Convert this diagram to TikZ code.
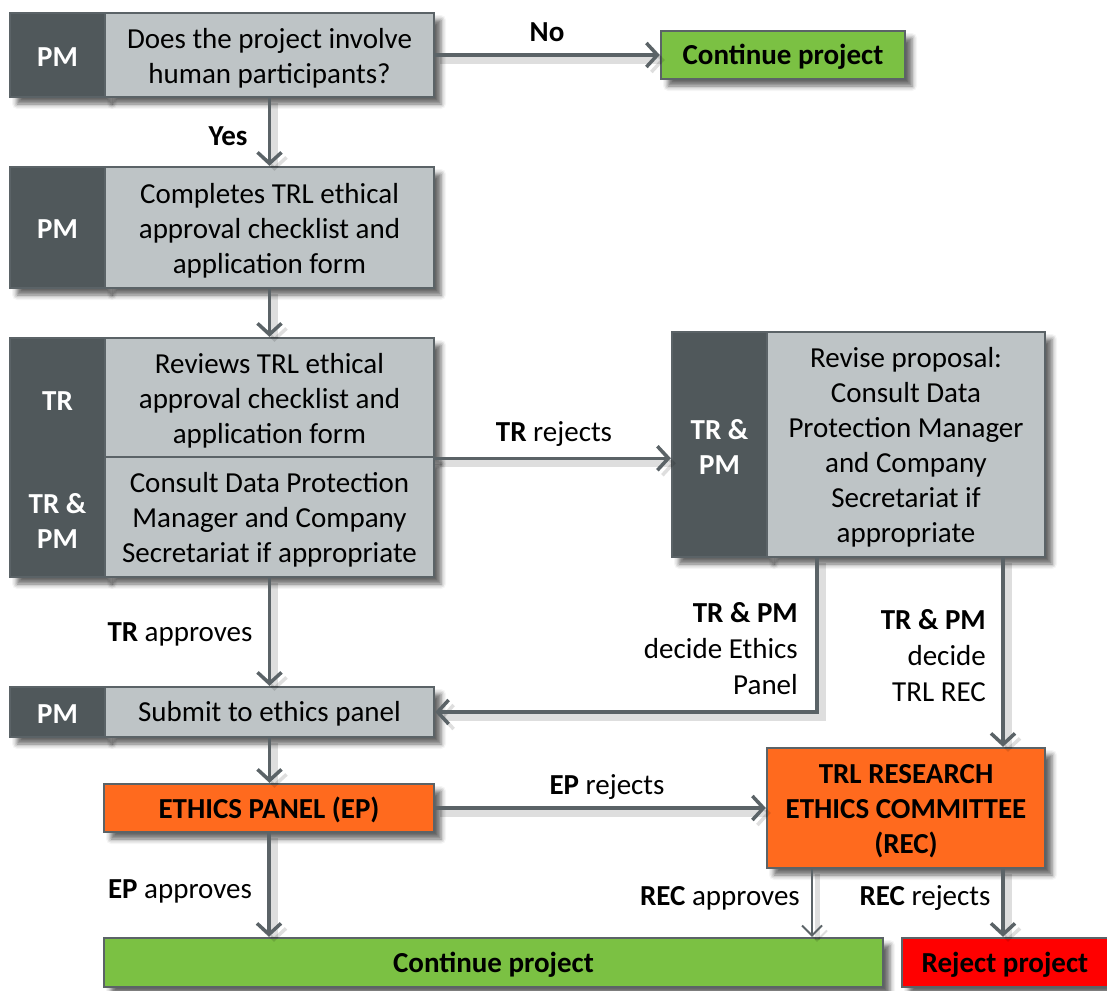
\documentclass[tikz,border=0pt]{standalone}
\usepackage{fontspec}
\setmainfont{Carlito}
\usetikzlibrary{arrows.meta,shadows.blur}
\definecolor{dkc}{HTML}{50585B}
\definecolor{ltc}{HTML}{BEC4C6}
\definecolor{bdc}{HTML}{5B6367}
\definecolor{grc}{HTML}{7BC143}
\definecolor{ogc}{HTML}{FF6A1E}
\definecolor{rdc}{HTML}{FF0000}
\begin{document}
\begin{tikzpicture}[x=1pt,y=-1pt,
  shd/.style={blur shadow={shadow xshift=7pt,shadow yshift=-7pt,shadow blur radius=5pt,shadow opacity=60}},
  box/.style={draw=bdc,line width=2.5pt,inner sep=0pt,shd},
  ltbox/.style={box,fill=ltc},
  dkbox/.style={box,fill=dkc},
  grbox/.style={box,fill=grc},
  ogbox/.style={box,fill=ogc},
  rdbox/.style={box,fill=rdc},
  txt/.style={align=center,inner sep=0pt,font=\fontsize{29}{35}\selectfont},
  btxt/.style={txt,font=\fontsize{29}{35}\selectfont\bfseries},
  dklab/.style={btxt,text=white},
  lab/.style={align=center,font=\fontsize{29}{36}\selectfont,inner sep=0pt},
  arr/.style={draw=bdc,line width=3.5pt,-{Straight Barb[length=11pt,width=24pt,line width=3.5pt]},
    preaction={draw=black,draw opacity=0.13,line width=7pt,transform canvas={shift={(5pt,-5pt)}}}},
  thinarr/.style={draw=bdc,line width=1.8pt,-{Straight Barb[length=10pt,width=20pt,line width=1.8pt]},
    preaction={draw=black,draw opacity=0.13,line width=5pt,transform canvas={shift={(5pt,-5pt)}}}}
]
\useasboundingbox (0,0) rectangle (1107,990);

% Box 1
\node[dkbox,minimum width=95pt,minimum height=84pt] (b1d) at (57.5,55) {};
\node[ltbox,minimum width=329pt,minimum height=84pt] (b1) at (269.5,55) {};
\node[dklab] (b1dt) at ([yshift=-2pt]b1d.center) {PM};
\node[txt] (b1t) at ([yshift=-3pt]b1.center) {Does the project involve\\human participants?};
% Continue (top)
\node[grbox,minimum width=244pt,minimum height=48pt] (c1) at (783,55) {};
\node[btxt] (c1t) at ([yshift=-2pt]c1.center) {Continue project};
% Box 2
\node[dkbox,minimum width=95pt,minimum height=121pt] (b2d) at (57.5,227.5) {};
\node[ltbox,minimum width=329pt,minimum height=121pt] (b2) at (269.5,227.5) {};
\node[dklab] (b2dt) at ([yshift=-2pt]b2d.center) {PM};
\node[txt] (b2t) at ([yshift=-3pt]b2.center) {Completes TRL ethical\\approval checklist and\\application form};
% Box 3
\node[dkbox,minimum width=95pt,minimum height=239pt] (b3d) at (57.5,457.5) {};
\node[ltbox,minimum width=329pt,minimum height=119pt] (b3a) at (269.5,397.5) {};
\node[ltbox,minimum width=329pt,minimum height=120pt] (b3b) at (269.5,517) {};
\node[dklab] (b3l1) at (57.5,401) {TR};
\node[dklab] (b3l2) at (57.5,521) {TR \&\\PM};
\node[txt] (b3at) at ([yshift=-3pt]b3a.center) {Reviews TRL ethical\\approval checklist and\\application form};
\node[txt] (b3bt) at ([yshift=-3pt]b3b.center) {Consult Data Protection\\Manager and Company\\Secretariat if appropriate};
% Box 4
\node[dkbox,minimum width=95pt,minimum height=225pt] (b4d) at (719.5,444.5) {};
\node[ltbox,minimum width=278pt,minimum height=225pt] (b4) at (906,444.5) {};
\node[dklab] (b4dt) at ([yshift=-2pt]b4d.center) {TR \&\\PM};
\node[txt] (b4t) at ([yshift=-3pt]b4.center) {Revise proposal:\\Consult Data\\Protection Manager\\and Company\\Secretariat if\\appropriate};
% Box 5
\node[dkbox,minimum width=95pt,minimum height=50pt] (b5d) at (57.5,712) {};
\node[ltbox,minimum width=329pt,minimum height=50pt] (b5) at (269.5,712) {};
\node[dklab] (b5dt) at ([yshift=-2pt]b5d.center) {PM};
\node[txt] (b5t) at ([yshift=-2pt]b5.center) {Submit to ethics panel};
% EP
\node[ogbox,minimum width=330pt,minimum height=48pt] (ep) at (269,808) {};
\node[btxt] (ept) at ([yshift=-2pt]ep.center) {ETHICS PANEL (EP)};
% REC
\node[ogbox,minimum width=278pt,minimum height=120pt] (rec) at (906,808) {};
\node[btxt] (rect) at ([yshift=-3pt]rec.center) {TRL RESEARCH\\ETHICS COMMITTEE\\(REC)};
% Continue (bottom)
\node[grbox,minimum width=779pt,minimum height=49pt] (c2) at (493.5,962.5) {};
\node[btxt] (c2t) at ([yshift=-2pt]c2.center) {Continue project};
% Reject
\node[rdbox,minimum width=206pt,minimum height=49pt] (rej) at (1005,962.5) {};
\node[btxt] (rejt) at ([yshift=-2pt]rej.center) {Reject project};

% Connectors
\draw[arr] (b1.south) -- (b2.north);
\node[lab,font=\fontsize{29}{36}\selectfont\bfseries] (yes) at (228,136) {Yes};
\draw[arr] (b1.east) -- (c1.west);
\node[lab,font=\fontsize{29}{36}\selectfont\bfseries] (no) at (547,32) {No};
\draw[arr] (b2.south) -- (b3a.north);
\draw[arr] (b3a.south east) -- (b3a.south east -| b4d.west);
\node[lab] (trrej) at (554,434) {\textbf{TR} rejects};
\draw[arr] (b3b.south) -- (b5.north);
\node[lab] (trapp) at (180,634) {\textbf{TR} approves};
\coordinate (k1) at ([xshift=-89pt]b4.south);
\draw[arr] (k1) |- (b5.east);
\node[lab,align=right,anchor=east] (dep) at (798,649) {\textbf{TR \& PM}\\decide Ethics\\Panel};
\coordinate (k2) at ([xshift=97pt]b4.south);
\draw[arr] (k2) -- (k2 |- rec.north);
\node[lab,align=right,anchor=east] (drec) at (986,656) {\textbf{TR \& PM}\\decide\\TRL REC};
\draw[arr] (b5.south) -- (b5.south |- ep.north);
\draw[arr] (ep.east) -- (rec.west);
\node[lab] (eprej) at (607,787) {\textbf{EP} rejects};
\draw[arr] (ep.south) -- (ep.south |- c2.north);
\node[lab] (epapp) at (180,891) {\textbf{EP} approves};
\coordinate (k3) at ([xshift=-94pt]rec.south);
\draw[thinarr] (k3) -- (k3 |- c2.north);
\node[lab,anchor=east] (recapp) at (800,898) {\textbf{REC} approves};
\coordinate (k4) at ([xshift=97pt]rec.south);
\draw[arr] (k4) -- (k4 |- rej.north);
\node[lab] (recrej) at (925,898) {\textbf{REC} rejects};
\end{tikzpicture}
\end{document}
